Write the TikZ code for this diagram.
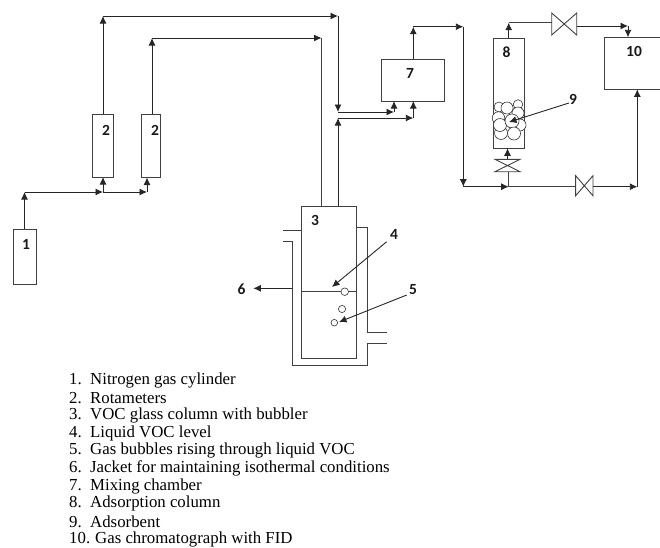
\documentclass[tikz,border=0pt]{standalone}
\usepackage{fontspec}
\setmainfont{Liberation Serif}
\newfontfamily\labelfont{Carlito}
\usetikzlibrary{arrows.meta}
\tikzset{
    pipe/.style = {draw = black!85, line width = 0.9pt, -{Latex[length = 7.5pt, width = 7pt]}},
    line/.style = {draw = black!75, line width = 0.9pt},
    vessel/.style = {shape = rectangle, draw = black!75, line width = 0.9pt, inner sep = 0pt, outer sep = 0pt},
    valve/.style = {shape = rectangle, inner sep = 0pt, outer sep = 0pt},
    bead/.style = {shape = circle, draw = black!80, line width = 0.6pt, fill = white, inner sep = 0pt},
    tag/.style = {font = \labelfont\bfseries\fontsize{15.5}{15.5}\selectfont, text = black!90, inner sep = 0pt},
    entry/.style = {anchor = west, inner sep = 0pt, font = \fontsize{16.8}{18}\selectfont}
}
\begin{document}
\begin{tikzpicture}[x = 1pt, y = -1pt]
    \useasboundingbox (0,0) rectangle (660,547);
    % vessels
    \node[vessel, minimum width = 23pt, minimum height = 55pt] (B1) at (24.5,256.5) {};
    \node[vessel, minimum width = 20.5pt, minimum height = 63pt] (B2a) at (102.8,145.5) {};
    \node[vessel, minimum width = 19pt, minimum height = 63pt] (B2b) at (150.5,145.5) {};
    \node[vessel, minimum width = 54.6pt, minimum height = 152.4pt] (B3) at (329,282.5) {};
    \node[vessel, minimum width = 62.6pt, minimum height = 42pt] (B7) at (413,80) {};
    \node[vessel, minimum width = 30.7pt, minimum height = 110pt] (B8) at (508.7,93.3) {};
    \node[vessel, minimum width = 60pt, minimum height = 52pt] (B10) at (634.7,63.3) {};
    % valves
    \node[valve, minimum width = 25pt, minimum height = 22pt] (V1) at (564.2,24) {};
    \node[valve, minimum width = 17.3pt, minimum height = 20pt] (V2) at (584.3,185.7) {};
    \node[valve, minimum width = 25pt, minimum height = 12.4pt] (V3) at (507.5,165.5) {};
    \draw[line] (V1.north west) -- (V1.south east) -- (V1.north east) -- (V1.south west) -- cycle;
    \draw[line] (V2.north west) -- (V2.south east) -- (V2.north east) -- (V2.south west) -- cycle;
    \draw[line] (V3.north west) -- (V3.south east) -- (V3.south west) -- (V3.north east) -- cycle;
    % junctions
    \coordinate (a1) at (24.5,229);
    \coordinate (a2) at (24.5,192);
    \coordinate (a3) at (103,192);
    \coordinate (a4) at (147,192);
    \coordinate (a5) at (103,177);
    \coordinate (a6) at (147,177.5);
    \coordinate (b1) at (103,114);
    \coordinate (b2) at (103,16);
    \coordinate (b3) at (338,16);
    \coordinate (b4) at (338,112);
    \coordinate (b5) at (394,112);
    \coordinate (b6) at (394,101);
    \coordinate (c1) at (152,114);
    \coordinate (c2) at (152,38);
    \coordinate (c3) at (321.5,38);
    \coordinate (c4) at (321.5,206.3);
    \coordinate (d1) at (338,206.3);
    \coordinate (d2) at (338,118);
    \coordinate (d3) at (413.3,118);
    \coordinate (d4) at (413.3,101);
    \coordinate (e1) at (413.3,59);
    \coordinate (e2) at (413.3,26.7);
    \coordinate (e3) at (463.3,26.7);
    \coordinate (e4) at (463.3,186.7);
    \coordinate (f1) at (508.7,186.7);
    \coordinate (f2) at (508.7,171.7);
    \coordinate (f3) at (507.5,159.3);
    \coordinate (f4) at (507.5,148.3);
    \coordinate (g1) at (575.7,186.7);
    \coordinate (g2) at (593,186.7);
    \coordinate (g3) at (637.3,186.7);
    \coordinate (g4) at (637.3,89.3);
    \coordinate (h1) at (508.7,38.3);
    \coordinate (h2) at (508.7,22.7);
    \coordinate (h3) at (551.7,22.7);
    \coordinate (h4) at (576.7,26);
    \coordinate (h5) at (628,26);
    \coordinate (h6) at (628,37.3);
    % pipes
    \draw[pipe] (a1) -- (a2);
    \draw[pipe] (a2) -- (a3);
    \draw[pipe] (a3) -- (a4);
    \draw[pipe] (a3) -- (a5);
    \draw[pipe] (a4) -- (a6);
    \draw[pipe] (b1) -- (b2);
    \draw[pipe] (b2) -- (b3);
    \draw[pipe] (b3) -- (b4);
    \draw[pipe] (b4) -- (b5);
    \draw[pipe] (b5) -- (b6);
    \draw[pipe] (c1) -- (c2);
    \draw[pipe] (c2) -- (c3);
    \draw[line] (c3) -- (c4);
    \draw[pipe] (d1) -- (d2);
    \draw[pipe] (d2) -- (d3);
    \draw[pipe] (d3) -- (d4);
    \draw[pipe] (e1) -- (e2);
    \draw[pipe] (e2) -- (e3);
    \draw[pipe] (e3) -- (e4);
    \draw[pipe] (e4) -- (f1);
    \draw[line] (f1) -- (f2);
    \draw[pipe] (f3) -- (f4);
    \draw[line] (f1) -- (g1);
    \draw[pipe] (g2) -- (g3);
    \draw[pipe] (g3) -- (g4);
    \draw[pipe] (h1) -- (h2);
    \draw[line] (h2) -- (h3);
    \draw[pipe] (h4) -- (h5);
    \draw[pipe] (h5) -- (h6);
    % jacket and liquid
    \coordinate (j1) at (283,230);
    \coordinate (j2) at (301.7,230);
    \coordinate (j3) at (283,241.7);
    \coordinate (j4) at (292.3,241.7);
    \coordinate (j5) at (292.3,365.7);
    \coordinate (j6) at (367.3,365.7);
    \coordinate (j7) at (367.3,343.7);
    \coordinate (j8) at (386.7,343.7);
    \coordinate (j9) at (356.3,227);
    \coordinate (j10) at (367.3,227);
    \coordinate (j11) at (367.3,332.3);
    \coordinate (j12) at (386.7,332.3);
    \coordinate (l1) at (301.7,291.5);
    \coordinate (l2) at (356.3,291.5);
    \draw[line] (j1) -- (j2);
    \draw[line] (j3) -- (j4) -- (j5) -- (j6) -- (j7) -- (j8);
    \draw[line] (j9) -- (j10) -- (j11) -- (j12);
    \draw[line] (l1) -- (l2);
    \node[bead, minimum size = 7.6pt] (G1) at (344.7,291.7) {};
    \node[bead, minimum size = 7.2pt] (G2) at (342,309) {};
    \node[bead, minimum size = 6.6pt] (G3) at (334.3,322.7) {};
    % adsorbent
    \node[bead, minimum size = 9.5pt] (P3) at (518,104.5) {};
    \node[bead, minimum size = 12pt] (P4) at (518,113) {};
    \node[bead, minimum size = 10pt] (P1) at (499,107) {};
    \node[bead, minimum size = 12pt] (P2) at (507,108) {};
    \node[bead, minimum size = 12.5pt] (P5) at (498.5,118) {};
    \node[bead, minimum size = 13pt] (P7) at (501,133) {};
    \node[bead, minimum size = 12pt] (P6) at (520,125) {};
    \node[bead, minimum size = 13pt] (P9) at (500,125) {};
    \node[bead, minimum size = 14pt] (P10) at (512,121) {};
    \node[bead, minimum size = 13pt] (P8) at (514,133.5) {};
    % labels
    \node[tag] (L1) at (26,244) {1};
    \node[tag] (L2a) at (106,130) {2};
    \node[tag] (L2b) at (155,130) {2};
    \node[tag] (L3) at (315,220) {3};
    \node[tag] (L4) at (394,234) {4};
    \node[tag] (L5) at (413,289.5) {5};
    \node[tag] (L6) at (241.5,289) {6};
    \node[tag] (L7) at (410,73) {7};
    \node[tag] (L8) at (506.5,52) {8};
    \node[tag] (L9) at (573,99) {9};
    \node[tag] (L10) at (634,51.5) {10};
    % pointers
    \coordinate (p4) at (386.7,241.7);
    \coordinate (q4) at (332,287);
    \coordinate (p5) at (406.7,295);
    \coordinate (q5) at (339,322);
    \coordinate (p6) at (292.3,288.3);
    \coordinate (q6) at (253.3,288.3);
    \coordinate (p9) at (569,103);
    \coordinate (q9) at (509,122);
    \draw[pipe] (p4) -- (q4);
    \draw[pipe] (p5) -- (q5);
    \draw[pipe] (p6) -- (q6);
    \draw[pipe] (p9) -- (q9);
    % list
    \node[entry] (T1) at (69,380) {\makebox[21pt][l]{1.}Nitrogen gas cylinder};
    \node[entry] (T2) at (69,397.7) {\makebox[21pt][l]{2.}Rotameters};
    \node[entry] (T3) at (69,415.4) {\makebox[21pt][l]{3.}VOC glass column with bubbler};
    \node[entry] (T4) at (69,433.1) {\makebox[21pt][l]{4.}Liquid VOC level};
    \node[entry] (T5) at (69,450.8) {\makebox[21pt][l]{5.}Gas bubbles rising through liquid VOC};
    \node[entry] (T6) at (69,468.5) {\makebox[21pt][l]{6.}Jacket for maintaining isothermal conditions};
    \node[entry] (T7) at (69,486.2) {\makebox[21pt][l]{7.}Mixing chamber};
    \node[entry] (T8) at (69,503.9) {\makebox[21pt][l]{8.}Adsorption column};
    \node[entry] (T9) at (69,521.6) {\makebox[21pt][l]{9.}Adsorbent};
    \node[entry] (T10) at (69,539.3) {\makebox[26pt][l]{10.}Gas chromatograph with FID};
\end{tikzpicture}
\end{document}
